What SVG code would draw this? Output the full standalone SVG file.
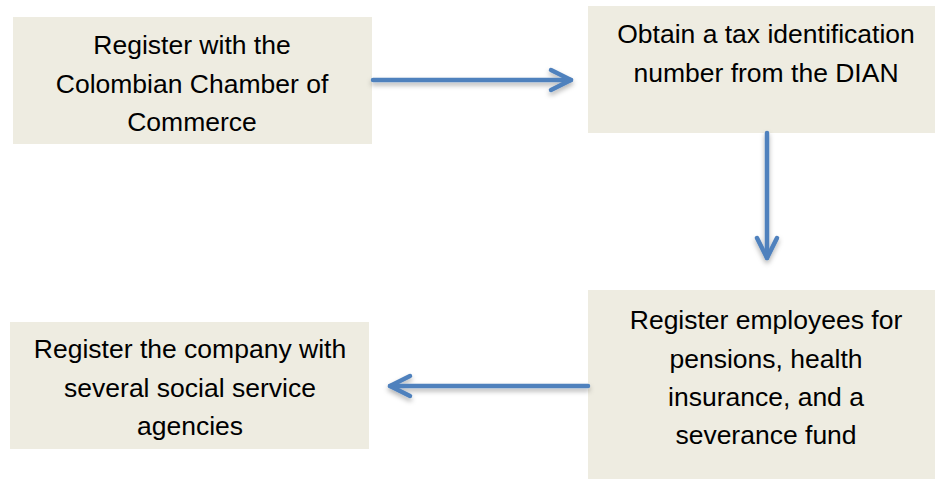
<svg xmlns="http://www.w3.org/2000/svg" width="935" height="479" viewBox="0 0 935 479">
<style>
.box{fill:#EEECE1}
.t{font-family:"Liberation Sans",Arial,sans-serif;font-size:26.5px;fill:#000;text-anchor:middle}
.c{fill:none;stroke:#4F81BD;stroke-width:4.5;stroke-linecap:round}
</style>
<defs>
<marker id="ah" markerUnits="userSpaceOnUse" viewBox="-2 -2 28 28" markerWidth="28" markerHeight="28" refX="22" refY="12" orient="auto" overflow="visible">
<path d="M2,2 L22,12 L2,22" fill="none" stroke="#4F81BD" stroke-width="4.5" stroke-linecap="round" stroke-linejoin="round"/>
</marker>
<filter id="sh" x="-20%" y="-50%" width="140%" height="200%">
<feDropShadow dx="0" dy="3" stdDeviation="2.5" flood-color="#000" flood-opacity="0.3"/>
</filter>
</defs>
<rect width="935" height="479" fill="#fff"/>
<g id="node1">
<rect class="box" x="13" y="17" width="359" height="127"/>
<text class="t" x="192" y="54">Register with the</text>
<text class="t" x="192" y="93">Colombian Chamber of</text>
<text class="t" x="192" y="131">Commerce</text>
</g>
<g id="node2">
<rect class="box" x="588" y="6" width="347" height="127"/>
<text class="t" x="766" y="43">Obtain a tax identification</text>
<text class="t" x="766" y="82">number from the DIAN</text>
</g>
<g id="node3">
<rect class="box" x="588" y="290" width="347" height="189"/>
<text class="t" x="766" y="329">Register employees for</text>
<text class="t" x="766" y="368">pensions, health</text>
<text class="t" x="766" y="406">insurance, and a</text>
<text class="t" x="766" y="444">severance fund</text>
</g>
<g id="node4">
<rect class="box" x="10" y="322" width="359" height="127"/>
<text class="t" x="190" y="358">Register the company with</text>
<text class="t" x="190" y="397">several social service</text>
<text class="t" x="190" y="435">agencies</text>
</g>
<g id="connectors" filter="url(#sh)">
<path class="c" d="M373,80 H571" marker-end="url(#ah)"/>
<path class="c" d="M767,133 V258" marker-end="url(#ah)"/>
<path class="c" d="M588,386 H390" marker-end="url(#ah)"/>
</g>
</svg>
